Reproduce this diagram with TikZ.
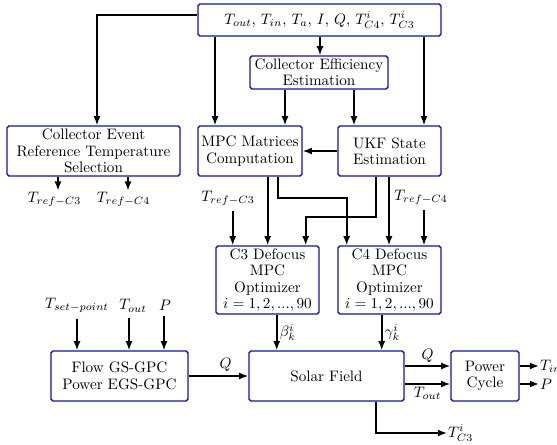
\documentclass[tikz,border=0pt]{standalone}
\usetikzlibrary{arrows.meta,calc}
\definecolor{boxblue}{RGB}{20,20,160}
\newdimen\px \px=0.66pt

\begin{document}
\begin{tikzpicture}[x=0.66pt,y=-0.66pt,
  box/.style={draw=boxblue, line width=0.9pt, rounded corners=1.2pt, align=center,
    inner sep=0pt, font=\fontsize{10}{10.8}\selectfont},
  arr/.style={line width=1.1pt, -{Latex[length=6pt,width=4.6pt]}},
  lbl/.style={inner sep=0.5pt, font=\fontsize{10}{12}\selectfont}]
\useasboundingbox (0,0) rectangle (557,445);

% blocks
\node[box, minimum width=243\px, minimum height=32\px] (meas) at (319.5,20)
  {$T_{out}$, $T_{in}$, $T_a$, $I$, $Q$, $T^i_{C4}$, $T^i_{C3}$};
\node[box, minimum width=138\px, minimum height=33\px] (eff) at (319,72.5)
  {Collector Efficiency\\Estimation};
\node[box, minimum width=173\px, minimum height=50\px] (cev) at (93.5,151)
  {Collector Event\\Reference Temperature\\Selection};
\node[box, minimum width=104\px, minimum height=50\px] (mpc) at (250,151)
  {MPC Matrices\\Computation};
\node[box, minimum width=103\px, minimum height=50\px] (ukf) at (389.5,151)
  {UKF State\\Estimation};
\node[box, minimum width=103\px, minimum height=68\px] (cthree) at (267.5,280)
  {C3 Defocus\\MPC\\Optimizer\\$i=1,2,...,90$};
\node[box, minimum width=103\px, minimum height=68\px] (cfour) at (389.5,280)
  {C4 Defocus\\MPC\\Optimizer\\$i=1,2,...,90$};
\node[box, minimum width=137\px, minimum height=50\px] (flow) at (119.5,376)
  {Flow GS-GPC\\Power EGS-GPC};
\node[box, minimum width=155\px, minimum height=50\px] (solar) at (326.5,376)
  {Solar Field};
\node[box, minimum width=68\px, minimum height=50\px] (power) at (485,376)
  {Power\\Cycle};

% free signal labels
\node[lbl] (refa) at (54.5,199) {$T_{ref-C3}$};
\node[lbl] (refb) at (123.5,199) {$T_{ref-C4}$};
\node[lbl] (refc) at (228,198) {$T_{ref-C3}$};
\node[lbl] (refd) at (421,197) {$T_{ref-C4}$};
\node[lbl] (tsp) at (77,305.7) {$T_{set-point}$};
\node[lbl] (tou) at (133,305.7) {$T_{out}$};
\node[lbl] (pin) at (165,305.7) {$P$};
\node[lbl, anchor=west] (tin) at (539,366) {$T_{in}$};
\node[lbl, anchor=west] (pout) at (539,384) {$P$};
\node[lbl, anchor=west] (tcth) at (447,433) {$T^i_{C3}$};

% measurements distribution
\draw[arr] ([yshift=3.3pt]meas.west) -| (97,0 |- cev.north);
\draw[arr] (215,0 |- meas.south) -- (215,0 |- mpc.north);
\draw[arr] (320,0 |- meas.south) -- (320,0 |- eff.north);
\draw[arr] (424,0 |- meas.south) -- (424,0 |- ukf.north);
\draw[arr] (285,0 |- eff.south) -- (285,0 |- mpc.north);
\draw[arr] (354,0 |- eff.south) -- (354,0 |- ukf.north);
\draw[arr] (ukf.west) -- (mpc.east);

% reference temperatures
\draw[arr] (58,0 |- cev.south) -- (58,0 |- refa.north);
\draw[arr] (128,0 |- cev.south) -- (128,0 |- refb.north);
\draw[arr, shorten <=3pt] (232.7,0 |- refc.south) -- (232.7,0 |- cthree.north);
\draw[arr, shorten <=3pt] (424,0 |- refd.south) -- (424,0 |- cfour.north);

% model and state to optimizers
\draw[arr] (267.7,0 |- mpc.south) -- (267.7,0 |- cthree.north);
\draw[arr] (277.7,0 |- mpc.south) -- (277.7,198) -| (346.7,0 |- cfour.north);
\draw[arr] (375.7,0 |- ukf.south) -- (375.7,216.7) -| (305.7,0 |- cthree.north);
\draw[arr] (389,0 |- ukf.south) -- (389,0 |- cfour.north);

% flow controller
\draw[arr, shorten <=3pt] (77,0 |- tsp.south) -- (77,0 |- flow.north);
\draw[arr, shorten <=3pt] (129,0 |- tou.south) -- (129,0 |- flow.north);
\draw[arr, shorten <=3pt] (164,0 |- pin.south) -- (164,0 |- flow.north);
\draw[arr] (flow.east) -- (solar.west) node[lbl, pos=0.62, above=2pt] {$Q$};

% defocus commands
\draw[arr] (276.7,0 |- cthree.south) -- (276.7,0 |- solar.north)
  node[lbl, midway, right=1pt] {$\beta^i_k$};
\draw[arr] (381.7,0 |- cfour.south) -- (381.7,0 |- solar.north)
  node[lbl, midway, right=1pt] {$\gamma^i_k$};

% plant outputs
\draw[arr] (solar.east |- 0,366) -- (power.west |- 0,366)
  node[lbl, midway, above=1pt] {$Q$};
\draw[arr] (solar.east |- 0,384) -- (power.west |- 0,384)
  node[lbl, midway, below=1pt] {$T_{out}$};
\draw[arr] (power.east |- tin) -- (tin.west);
\draw[arr] (power.east |- pout) -- (pout.west);
\draw[arr] (376,0 |- solar.south) |- (tcth.west);
\end{tikzpicture}
\end{document}
